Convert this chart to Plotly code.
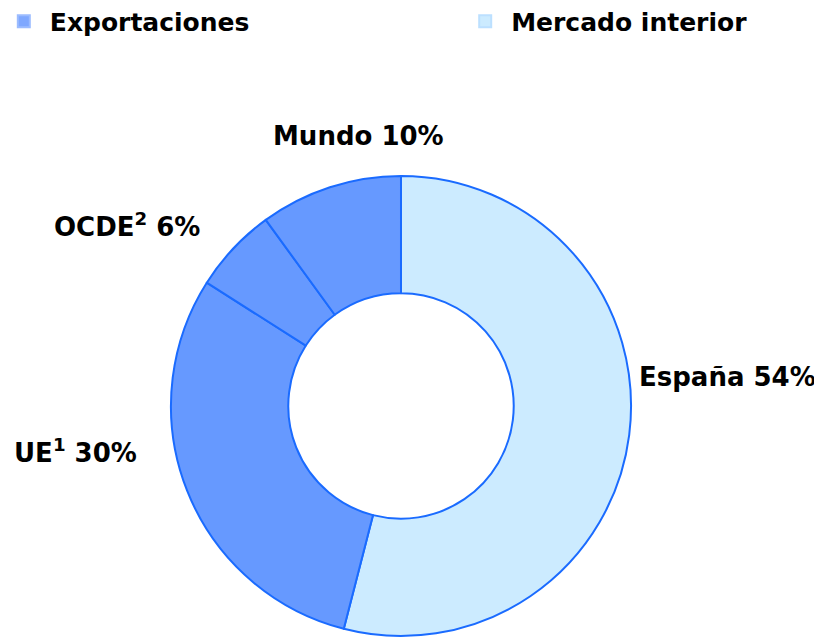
import plotly.graph_objects as go

# Data
labels = ["España", "UE<sup>1</sup>", "OCDE<sup>2</sup>", "Mundo"]
values = [54, 30, 6, 10]
groups = ["Mercado interior", "Exportaciones", "Exportaciones", "Exportaciones"]
legend_names = ["Exportaciones", "Mercado interior"]

group_colors = {"Exportaciones": "#6699FF", "Mercado interior": "#CCEBFF"}
legend_fill = {"Exportaciones": "#7FA8FF", "Mercado interior": "#CCEBFF"}
legend_line = {"Exportaciones": "#9CBCFF", "Mercado interior": "#BCE0FF"}
slice_colors = [group_colors[g] for g in groups]

# label placement (paper coords) and anchors
label_pos = [(0.985, 0.4225), (0.0823, 0.307), (0.1453, 0.661), (0.4263, 0.7995)]
label_anchor = ["right", "center", "center", "center"]

fig = go.Figure()

fig.add_trace(go.Pie(
    labels=labels,
    values=values,
    sort=False,
    direction="clockwise",
    rotation=0,
    hole=0.49,
    marker=dict(colors=slice_colors, line=dict(color="#1A6BFF", width=2)),
    textinfo="none",
    showlegend=False,
    domain=dict(x=[0.0, 0.9562], y=[0.0172, 0.7372]),
    hoverinfo="label+percent",
))

legend_ids = ["legend", "legend2"]
for name, lid in zip(legend_names, legend_ids):
    fig.add_trace(go.Scatter(
        x=[None], y=[None], mode="markers", name=name, legend=lid,
        marker=dict(symbol="square", size=16, color=legend_fill[name],
                    line=dict(color=legend_line[name], width=4)),
    ))

for lab, val, (px, py), anc in zip(labels, values, label_pos, label_anchor):
    fig.add_annotation(
        text=f"{lab} {val}%", x=px, y=py, xref="paper", yref="paper",
        xanchor=anc, yanchor="middle", showarrow=False,
        font=dict(family="DejaVu Sans", size=26, color="#000000", weight="bold"),
    )

legend_font = dict(family="DejaVu Sans", size=25, color="#000000", weight="bold")
fig.update_layout(
    width=822, height=639,
    margin=dict(l=0, r=0, t=0, b=0, autoexpand=False),
    paper_bgcolor="white", plot_bgcolor="white",
    xaxis=dict(visible=False), yaxis=dict(visible=False),
    legend=dict(x=-0.0124, y=1.015, xanchor="left", yanchor="top",
                itemsizing="constant", itemwidth=42,
                font=legend_font, bgcolor="rgba(0,0,0,0)"),
    legend2=dict(x=0.5489, y=1.015, xanchor="left", yanchor="top",
                 itemsizing="constant", itemwidth=42,
                 font=legend_font, bgcolor="rgba(0,0,0,0)"),
)

fig.write_html("out.html")
